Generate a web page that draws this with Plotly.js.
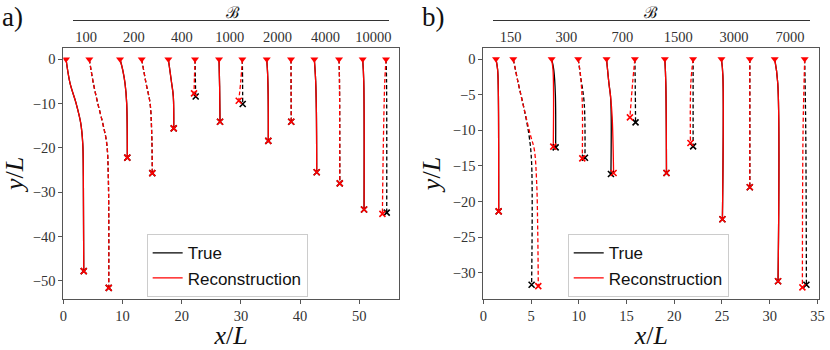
<!DOCTYPE html>
<html>
<head>
<meta charset="utf-8">
<script src="https://cdn.plot.ly/plotly-3.0.1.min.js"></script>
<style>
  html, body { margin: 0; padding: 0; background: #fff; }
  #plot { width: 830px; height: 350px; }
</style>
</head>
<body>
<div id="plot"></div>
<script>
// Panel a) trajectories (x/L, y/L)
var aTrueX = [
  [0.46, 1.13, 2.15, 2.94, 3.28, 3.38, 3.45],
  [4.39, 5.07, 5.81, 6.65, 7.33, 7.6, 7.67],
  [9.58, 10.03, 10.42, 10.7, 10.81],
  [13.24, 13.97, 14.65, 14.93, 15.03],
  [17.74, 18.3, 18.58, 18.65],
  [22.25, 22.3, 22.36],
  [26.3, 26.4, 26.47],
  [30.24, 30.28, 30.3],
  [34.36, 34.5, 34.6, 34.63],
  [38.46, 38.48, 38.5],
  [42.4, 42.63, 42.75, 42.8],
  [46.57, 46.65, 46.7],
  [50.57, 50.75, 50.8],
  [54.51, 54.6, 54.63]
];
var aTrueY = [
  [0, -5.4, -9.9, -14.4, -19, -26.5, -47.8],
  [0, -5.4, -9.9, -14.4, -19, -26.5, -51.6],
  [0, -2.4, -5.4, -9.9, -22.2],
  [0, -5.4, -9.9, -16.7, -25.7],
  [0, -5.4, -8.4, -15.6],
  [0, -4, -8.4],
  [0, -6, -14.1],
  [0, -5, -10.1],
  [0, -3, -8, -18.4],
  [0, -7, -14.1],
  [0, -5, -12, -25.5],
  [0, -5, -28.0],
  [0, -5, -33.9],
  [0, -5, -34.6]
];
var aRecX = [
  [0.46, 1.13, 2.15, 2.94, 3.28, 3.38, 3.45],
  [4.39, 5.07, 5.81, 6.65, 7.33, 7.6, 7.67],
  [9.58, 10.03, 10.42, 10.7, 10.81],
  [13.24, 13.97, 14.65, 14.93, 15.03],
  [17.74, 18.3, 18.58, 18.65],
  [22.25, 22.15, 22.08],
  [26.3, 26.4, 26.47],
  [30.24, 29.97, 29.63],
  [34.36, 34.5, 34.6, 34.63],
  [38.46, 38.48, 38.5],
  [42.4, 42.63, 42.75, 42.8],
  [46.57, 46.65, 46.7],
  [50.57, 50.75, 50.8],
  [54.51, 54.3, 54.05, 53.9]
];
var aRecY = [
  [0, -5.4, -9.9, -14.4, -19, -26.5, -47.8],
  [0, -5.4, -9.9, -14.4, -19, -26.5, -51.6],
  [0, -2.4, -5.4, -9.9, -22.2],
  [0, -5.4, -9.9, -16.7, -25.7],
  [0, -5.4, -8.4, -15.6],
  [0, -4, -7.7],
  [0, -6, -14.1],
  [0, -5, -9.35],
  [0, -3, -8, -18.4],
  [0, -7, -14.1],
  [0, -5, -12, -25.5],
  [0, -5, -28.0],
  [0, -5, -33.9],
  [0, -5, -20, -34.9]
];
var aLabels = ["100", "200", "400", "1000", "2000", "4000", "10000"];

// Panel b)
var bTrueX = [
  [1.33, 1.5, 1.57, 1.61],
  [3.14, 3.66, 4.29, 4.81, 5.06, 5.06],
  [7.16, 7.38, 7.55, 7.58],
  [9.94, 10.19, 10.57, 10.65],
  [12.91, 13.16, 13.33, 13.4, 13.37],
  [15.88, 15.92, 15.95],
  [19.02, 19.12, 19.19],
  [21.98, 21.98],
  [24.95, 25.1, 25.05],
  [27.92, 27.92],
  [30.53, 30.85, 30.88],
  [33.67, 33.78, 33.85]
];
var bTrueY = [
  [0, -1.5, -4.3, -21.4],
  [0, -3.4, -7.1, -10.9, -14.6, -31.7],
  [0, -1.5, -5, -12.4],
  [0, -2.4, -6.2, -13.86],
  [0, -3.4, -5.25, -8.1, -16.15],
  [0, -4, -8.9],
  [0, -3.4, -16.0],
  [0, -12.27],
  [0, -2.4, -22.5],
  [0, -18.0],
  [0, -3.4, -31.2],
  [0, -10, -31.7]
];
var bRecX = [
  [1.33, 1.5, 1.57, 1.61],
  [3.14, 3.66, 4.29, 4.9, 5.34, 5.59, 5.7, 5.76],
  [7.16, 7.3, 7.36, 7.33],
  [9.94, 10.19, 10.37, 10.37],
  [12.91, 13.16, 13.33, 13.5, 13.65],
  [15.88, 15.64, 15.36],
  [19.02, 19.12, 19.19],
  [21.98, 21.74, 21.7],
  [24.95, 25.1, 25.05],
  [27.92, 27.92],
  [30.53, 30.85, 30.88],
  [33.67, 33.5, 33.43]
];
var bRecY = [
  [0, -1.5, -4.3, -21.4],
  [0, -3.4, -7.1, -10.5, -12.7, -17.4, -24, -31.9],
  [0, -1.5, -5, -12.3],
  [0, -2.4, -6.2, -13.96],
  [0, -3.4, -5.25, -8.1, -16.0],
  [0, -3.4, -8.2],
  [0, -3.4, -16.0],
  [0, -3.4, -11.8],
  [0, -2.4, -22.5],
  [0, -18.0],
  [0, -3.4, -31.2],
  [0, -10, -32.07]
];
var bLabels = ["150", "300", "700", "1500", "3000", "7000"];

var serif = "Liberation Serif, DejaVu Serif, serif";
var data = [];

function last(arr) { return arr[arr.length - 1]; }

function addPanel(trueX, trueY, recX, recY, xa, ya, legendId) {
  for (var i = 0; i < trueX.length; i++) {
    var dash = (i % 2 === 0) ? "solid" : "4px,2.5px";
    data.push({
      x: trueX[i], y: trueY[i], xaxis: xa, yaxis: ya,
      mode: "lines", type: "scatter", name: "True",
      line: { color: "black", width: 1.3, dash: dash, shape: "spline" },
      showlegend: i === 0, legend: legendId, hoverinfo: "skip"
    });
    data.push({
      x: recX[i], y: recY[i], xaxis: xa, yaxis: ya,
      mode: "lines", type: "scatter", name: "Reconstruction",
      line: { color: "red", width: 1.3, dash: dash, shape: "spline" },
      showlegend: i === 0, legend: legendId, hoverinfo: "skip"
    });
  }
  // end points
  data.push({
    x: trueX.map(last), y: trueY.map(last), xaxis: xa, yaxis: ya,
    mode: "markers", type: "scatter", showlegend: false, hoverinfo: "skip",
    marker: { symbol: "x-thin", size: 6, line: { color: "black", width: 1.6 } }
  });
  data.push({
    x: recX.map(last), y: recY.map(last), xaxis: xa, yaxis: ya,
    mode: "markers", type: "scatter", showlegend: false, hoverinfo: "skip",
    marker: { symbol: "x-thin", size: 6, line: { color: "red", width: 1.6 } }
  });
  // start points
  data.push({
    x: recX.map(function (t) { return t[0]; }), y: recY.map(function (t) { return t[0]; }),
    xaxis: xa, yaxis: ya,
    mode: "markers", type: "scatter", showlegend: false, hoverinfo: "skip",
    marker: { symbol: "triangle-down", size: 7, color: "red" }
  });
}

addPanel(aTrueX, aTrueY, aRecX, aRecY, "x", "y", "legend");
addPanel(bTrueX, bTrueY, bRecX, bRecY, "x2", "y2", "legend2");

// top "B" axes
data.push({ x: aLabels.map(function (d, i) { return i; }), y: aLabels.map(function () { return null; }),
  xaxis: "x3", yaxis: "y3", mode: "markers", type: "scatter", showlegend: false, hoverinfo: "skip" });
data.push({ x: bLabels.map(function (d, i) { return i; }), y: bLabels.map(function () { return null; }),
  xaxis: "x4", yaxis: "y4", mode: "markers", type: "scatter", showlegend: false, hoverinfo: "skip" });

function frameAxis(extra) {
  var ax = {
    showline: true, linecolor: "#555", linewidth: 1, mirror: true,
    ticks: "outside", ticklen: 4, tickcolor: "#555", tickwidth: 1,
    showgrid: false, zeroline: false, automargin: false,
    tickfont: { family: serif, size: 14.5, color: "#333" }
  };
  for (var k in extra) ax[k] = extra[k];
  return ax;
}

function topAxis(extra) {
  var ax = {
    showline: true, linecolor: "#333", linewidth: 1,
    ticks: "", showgrid: false, zeroline: false, automargin: false,
    ticklabelstandoff: 4,
    tickfont: { family: serif, size: 14.5, color: "#333" }, fixedrange: true
  };
  for (var k in extra) ax[k] = extra[k];
  return ax;
}

var legendStyle = {
  xanchor: "left", yanchor: "top", bgcolor: "rgba(255,255,255,0.85)",
  bordercolor: "#ccc", borderwidth: 1,
  font: { family: "Liberation Sans, Arial, sans-serif", size: 17, color: "#111" }
};

var titleFont = { family: serif, size: 26, color: "#111" };

var layout = {
  width: 830, height: 350,
  margin: { l: 0, r: 0, t: 0, b: 0 },
  paper_bgcolor: "white", plot_bgcolor: "rgba(0,0,0,0)",
  xaxis: frameAxis({ domain: [0.0763, 0.4807], range: [0, 56.7], anchor: "y", dtick: 10,
    title: { text: "<i>x</i>/<i>L</i>", font: titleFont, standoff: 10 } }),
  yaxis: frameAxis({ domain: [0.1457, 0.8629], range: [-54.1, 2.55], anchor: "x", dtick: 10,
    title: { text: "<i>y</i>/<i>L</i>", font: titleFont, standoff: 4 } }),
  xaxis2: frameAxis({ domain: [0.5823, 0.9871], range: [0, 35.2], anchor: "y2", dtick: 5,
    title: { text: "<i>x</i>/<i>L</i>", font: titleFont, standoff: 10 } }),
  yaxis2: frameAxis({ domain: [0.1457, 0.8629], range: [-33.7, 1.55], anchor: "x2", dtick: 5,
    title: { text: "<i>y</i>/<i>L</i>", font: titleFont, standoff: 4 } }),
  xaxis3: topAxis({ domain: [0.0876, 0.4690], range: [-0.278, 6.332], anchor: "y3",
    tickvals: aLabels.map(function (d, i) { return i; }), ticktext: aLabels }),
  yaxis3: { domain: [0.9429, 0.95], range: [0, 1], visible: false, anchor: "x3", fixedrange: true },
  xaxis4: topAxis({ domain: [0.5943, 0.9759], range: [-0.311, 5.359], anchor: "y4",
    tickvals: bLabels.map(function (d, i) { return i; }), ticktext: bLabels }),
  yaxis4: { domain: [0.9429, 0.95], range: [0, 1], visible: false, anchor: "x4", fixedrange: true },
  legend: Object.assign({ x: 0.1767, y: 0.3306 }, legendStyle),
  legend2: Object.assign({ x: 0.684, y: 0.3306 }, legendStyle),
  annotations: [
    { text: "a)", xref: "paper", yref: "paper", x: 0.0, y: 1.0, xanchor: "left", yanchor: "top",
      showarrow: false, font: { family: serif, size: 27, color: "#111" } },
    { text: "b)", xref: "paper", yref: "paper", x: 0.506, y: 1.0, xanchor: "left", yanchor: "top",
      showarrow: false, font: { family: serif, size: 27, color: "#111" } },
    { text: "ℬ", xref: "paper", yref: "paper", x: 0.2811, y: 0.9629, xanchor: "center", yanchor: "middle",
      borderpad: 0, showarrow: false, font: { family: serif, size: 16, color: "#111" } },
    { text: "ℬ", xref: "paper", yref: "paper", x: 0.7843, y: 0.9629, xanchor: "center", yanchor: "middle",
      borderpad: 0, showarrow: false, font: { family: serif, size: 16, color: "#111" } }
  ]
};

Plotly.newPlot("plot", data, layout, { staticPlot: true });
</script>
</body>
</html>
